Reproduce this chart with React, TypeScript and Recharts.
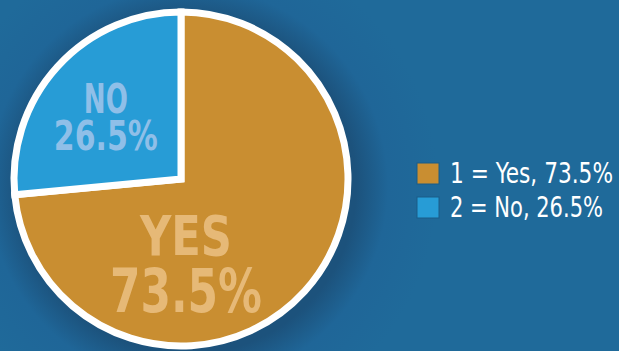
import React from "react";
import { PieChart, Pie, Cell, Legend } from "recharts";

const categories = ["Yes", "No"];
const codes = [1, 2];
const values = [73.5, 26.5];
const sliceLabels = ["YES", "NO"];
const colors = ["#c98e31", "#279cd6"];
const labelColors = ["#e6b977", "#8fbfe8"];

const data = categories.map((name, i) => ({ name, value: values[i], code: codes[i], tag: sliceLabels[i] }));

// label placement relative to pie center, as fraction of outer radius
const labelPlace = [
  { dx: 0.03, dy: 0.5, w1: 92, w2: 152, f1: 56, f2: 60, gap: 55 },
  { dx: -0.45, dy: -0.37, w1: 44, w2: 104, f1: 40, f2: 40, gap: 37 },
];

const FONT = "'Liberation Sans Narrow', 'DejaVu Sans Condensed', 'Arial Narrow', sans-serif";

const renderLabel = (props: any) => {
  const { cx, cy, outerRadius, index, payload } = props;
  const p = labelPlace[index];
  const x = cx + p.dx * outerRadius;
  const y = cy + p.dy * outerRadius;
  const v = payload && payload.value !== undefined ? payload.value : values[index];
  return (
    <text
      x={x}
      y={y - p.gap / 2 + p.f1 * 0.36}
      textAnchor="middle"
      fill={labelColors[index]}
      fontFamily={FONT}
      fontWeight="bold"
    >
      <tspan x={x} fontSize={p.f1} textLength={p.w1} lengthAdjust="spacingAndGlyphs">
        {sliceLabels[index]}
      </tspan>
      <tspan x={x} dy={p.gap + (p.f2 - p.f1) * 0.36} fontSize={p.f2} textLength={p.w2} lengthAdjust="spacingAndGlyphs">
        {`${v}%`}
      </tspan>
    </text>
  );
};

const legendWidths = [163, 153];

const renderLegend = () => (
  <svg width={209} height={70} style={{ overflow: "visible" }}>
    {data.map((d, i) => (
      <g key={d.name}>
        <rect x={7} y={8 + i * 34} width={22} height={21} fill={colors[i]} stroke="#1a5c88" strokeWidth={1} />
        <text
          x={40}
          y={28 + i * 34}
          fill="#ffffff"
          fontFamily={FONT}
          fontSize={24}
          textLength={legendWidths[i]}
          lengthAdjust="spacingAndGlyphs"
          transform={`translate(0 ${28 + i * 34}) scale(1 1.15) translate(0 ${-(28 + i * 34)})`}
        >
          {`${d.code} = ${d.name}, ${d.value}%`}
        </text>
      </g>
    ))}
  </svg>
);

export default function App() {
  return (
    <div
      style={{
        position: "absolute",
        left: 0,
        top: 0,
        width: 619,
        height: 351,
        background: "radial-gradient(circle at 188px 186px, #1c527c 168px, #1f6698 200px, #1f6a9a 250px)",
        overflow: "hidden",
      }}
    >
      <PieChart width={619} height={351} margin={{ top: 0, right: 0, bottom: 0, left: 0 }}>
        <Pie
          data={data}
          dataKey="value"
          nameKey="name"
          cx={181}
          cy={179}
          outerRadius={167}
          startAngle={90}
          endAngle={-270}
          stroke="#ffffff"
          strokeWidth={7}
          label={renderLabel}
          labelLine={false}
          isAnimationActive={false}
        >
          {data.map((d, i) => (
            <Cell key={d.name} fill={colors[i]} />
          ))}
        </Pie>
        <Legend content={renderLegend} wrapperStyle={{ left: 410, top: 155, width: 209 }} />
      </PieChart>
    </div>
  );
}
